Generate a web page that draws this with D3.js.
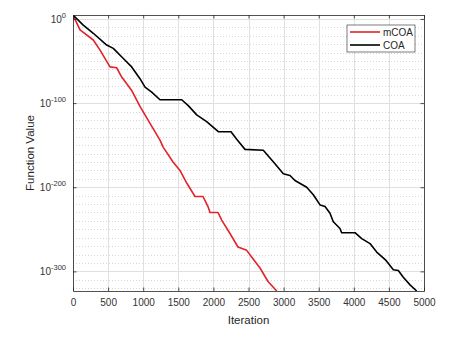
<!DOCTYPE html>
<html>
<head>
<meta charset="utf-8">
<script src="https://cdnjs.cloudflare.com/ajax/libs/d3/7.8.5/d3.min.js"></script>
<style>
    body { margin: 0; background: #ffffff; }
    text { font-family: "Liberation Sans", Arial, sans-serif; }
</style>
</head>
<body>
<div id="content_svg"></div>
<script>
const iterMCOA = [0, 100, 289, 385, 527, 622, 694, 836, 954, 1097, 1239, 1282, 1425, 1524, 1620, 1738, 1852, 1923, 1952, 2066, 2118, 2236, 2350, 2474, 2545, 2664, 2778, 2902];
const valorMCOA = [5e4, 1e-13, 1e-25, 1e-37, 1e-57, 1e-58, 1e-69, 1e-85, 1e-104, 1e-124, 1e-144, 1e-152, 1e-170, 1e-180, 1e-195, 1e-211, 1e-211, 1e-223, 1e-230, 1e-230, 1e-239, 1e-255, 1e-271, 1e-275, 1e-283, 1e-296, 1e-312, 5e-324];

const iterCOA = [0, 142, 289, 480, 574, 717, 836, 954, 1026, 1121, 1239, 1548, 1642, 1762, 1904, 2070, 2251, 2332, 2450, 2711, 2877, 2996, 3091, 3162, 3329, 3423, 3519, 3590, 3661, 3708, 3803, 3827, 4017, 4113, 4231, 4326, 4459, 4563, 4634, 4705, 4801, 4896];
const valorCOA = [5e4, 1e-7, 1e-17, 1e-31, 1e-35, 1e-47, 1e-57, 1e-71, 1e-81, 1e-87, 1e-96, 1e-96, 1e-103, 1e-114, 1e-122, 1e-134, 1e-134, 1e-143, 1e-155, 1e-156, 1e-172, 1e-184, 1e-186, 1e-192, 1e-200, 1e-209, 1e-221, 1e-223, 1e-231, 1e-241, 1e-249, 1e-254, 1e-254, 1e-261, 1e-267, 1e-277, 1e-287, 1e-298, 1e-299, 1e-307, 1e-316, 5e-324];

const nombres = ["mCOA", "COA"];
const colores = ["#e3222a", "#000000"];

const ticksX = [0, 500, 1000, 1500, 2000, 2500, 3000, 3500, 4000, 4500, 5000];
const ticksY = [1e0, 1e-100, 1e-200, 1e-300];
const expY = ["0", "-100", "-200", "-300"];
// grilla menor cada 10 decadas (exponentes)
const menorY = d3.range(-320, 1, 10).filter(e => e % 100 !== 0);

var LienzoWidth = 455, LienzoHeigh = 343;
var margen = { left: 73, top: 15, right: 31, bottom: 52 };
var ancho = LienzoWidth - margen.left - margen.right;
var alto = LienzoHeigh - margen.top - margen.bottom;

var svg = d3.select("#content_svg")
    .append("svg")
    .attr("width", LienzoWidth)
    .attr("height", LienzoHeigh);

var g = svg.append("g")
    .attr("transform", "translate(" + margen.left + "," + margen.top + ")");

var x = d3.scaleLinear().domain([0, 5000]).range([0, ancho]);
var y = d3.scaleLog().domain([5e-324, 5e4]).range([alto, 0]);

// fondo
g.append("rect")
    .attr("width", ancho)
    .attr("height", alto)
    .attr("fill", "#ffffff");

// grilla menor punteada
g.selectAll(".menor")
    .data(menorY)
    .enter().append("line")
    .attr("x1", 0).attr("x2", ancho)
    .attr("y1", d => Math.round(y(Number("1e" + d))) + 0.5)
    .attr("y2", d => Math.round(y(Number("1e" + d))) + 0.5)
    .attr("stroke", "#d6d6d6")
    .attr("stroke-width", 1)
    .attr("stroke-dasharray", "1,2");

// grilla mayor
g.selectAll(".gx")
    .data(ticksX)
    .enter().append("line")
    .attr("x1", d => Math.round(x(d)) + 0.5)
    .attr("x2", d => Math.round(x(d)) + 0.5)
    .attr("y1", 0).attr("y2", alto)
    .attr("stroke", "#e0e0e0");

g.selectAll(".gy")
    .data(ticksY)
    .enter().append("line")
    .attr("x1", 0).attr("x2", ancho)
    .attr("y1", d => Math.round(y(d)) + 0.5)
    .attr("y2", d => Math.round(y(d)) + 0.5)
    .attr("stroke", "#e0e0e0");

// curvas
g.append("clipPath").attr("id", "recorte")
    .append("rect").attr("width", ancho).attr("height", alto);

const linea = d3.line()
    .x(d => x(d[0]))
    .y(d => y(d[1]));

var datos = [d3.zip(iterMCOA, valorMCOA), d3.zip(iterCOA, valorCOA)];

g.selectAll(".curva")
    .data(datos)
    .enter().append("path")
    .attr("clip-path", "url(#recorte)")
    .attr("d", linea)
    .attr("fill", "none")
    .attr("stroke", (d, i) => colores[i])
    .attr("stroke-width", 1.6)
    .attr("stroke-linejoin", "round");

// ejes estilo matlab, marcas hacia adentro
var colorEje = "#262626";

var ejeX = g.append("g")
    .attr("transform", "translate(0," + alto + ")")
    .call(d3.axisBottom(x).tickValues(ticksX).tickFormat(d3.format("d"))
        .tickSizeInner(-3.5).tickSizeOuter(0).tickPadding(8));

var ejeXarriba = g.append("g")
    .call(d3.axisTop(x).tickValues(ticksX).tickSizeInner(-3.5).tickSizeOuter(0).tickFormat(""));

var ejeY = g.append("g")
    .call(d3.axisLeft(y).tickValues(ticksY).tickSizeInner(-3.5).tickSizeOuter(0).tickPadding(7));

var ejeYder = g.append("g")
    .attr("transform", "translate(" + ancho + ",0)")
    .call(d3.axisRight(y).tickValues(ticksY).tickSizeInner(-3.5).tickSizeOuter(0).tickFormat(""));

[ejeX, ejeXarriba, ejeY, ejeYder].forEach(function(e) {
    e.select(".domain").attr("stroke", colorEje).attr("stroke-width", 0.8);
    e.selectAll(".tick line").attr("stroke", colorEje).attr("stroke-width", 0.8);
    e.selectAll("text").attr("fill", "#333333").attr("font-size", 10)
        .attr("font-family", "'Liberation Sans', Arial, sans-serif");
});

// etiquetas 10^n con superindice
ejeY.selectAll(".tick text").each(function(d, i) {
    var t = d3.select(this).text(null).attr("dy", "0.32em");
    t.append("tspan").text("10");
    t.append("tspan").attr("dy", -5).attr("font-size", 7.5).text(expY[i]);
});

// titulos de ejes
g.append("text")
    .attr("x", ancho / 2)
    .attr("y", alto + 33)
    .attr("text-anchor", "middle")
    .attr("font-size", 11.5)
    .attr("fill", "#262626")
    .text("Iteration");

g.append("text")
    .attr("transform", "translate(-39," + (alto / 2) + ") rotate(-90)")
    .attr("text-anchor", "middle")
    .attr("font-size", 11.5)
    .attr("fill", "#262626")
    .text("Function Value");

// leyenda
var leyenda = svg.append("g").attr("transform", "translate(347,25)");
leyenda.append("rect")
    .attr("width", 68)
    .attr("height", 27)
    .attr("fill", "#ffffff")
    .attr("stroke", colorEje)
    .attr("stroke-width", 0.6);

nombres.forEach(function(n, i) {
    leyenda.append("line")
        .attr("x1", 3).attr("x2", 33)
        .attr("y1", 7 + i * 13).attr("y2", 7 + i * 13)
        .attr("stroke", colores[i])
        .attr("stroke-width", 1.6);
    leyenda.append("text")
        .attr("x", 36)
        .attr("y", 7 + i * 13)
        .attr("dy", "0.35em")
        .attr("font-size", 10)
        .attr("fill", "#262626")
        .text(n);
});
</script>
</body>
</html>
